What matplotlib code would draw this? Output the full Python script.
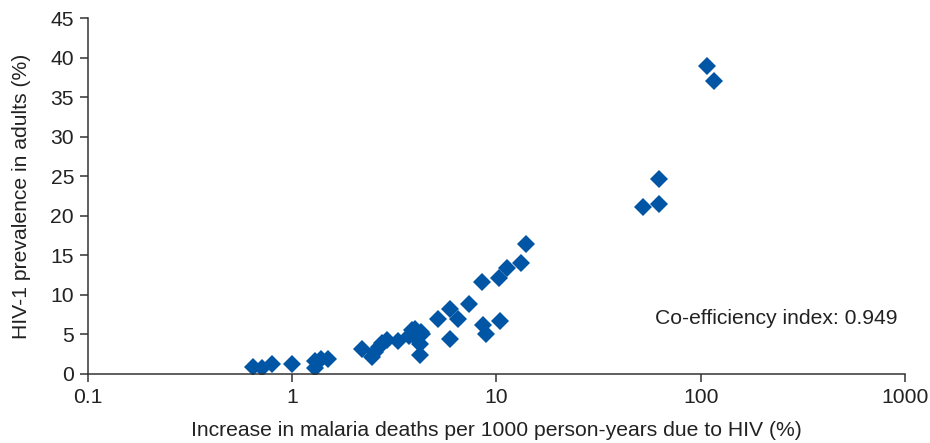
import numpy as np
import matplotlib.pyplot as plt
from matplotlib.ticker import FixedLocator, FixedFormatter, NullLocator

plt.rcParams['font.family'] = ['Liberation Sans', 'DejaVu Sans']

# increase in malaria deaths per 1000 person-years due to HIV (%)
malaria_increase = [0.64, 0.715, 0.80, 1.0, 1.29, 1.29, 1.39, 1.49,
                    2.19, 2.47, 2.55, 2.66, 2.76, 2.92, 3.28,
                    3.73, 3.87, 3.98, 4.05, 4.25, 4.22, 4.2, 4.3,
                    5.2, 5.9, 5.92, 6.48, 7.34, 8.5, 8.55, 8.86,
                    10.3, 10.4, 11.3, 13.2, 14.0,
                    52.1, 62.2, 62.2, 107, 115.8]
# HIV-1 prevalence in adults (%)
hiv_prev = [0.85, 0.72, 1.2, 1.26, 1.7, 0.76, 1.85, 1.9,
            3.2, 2.2, 2.74, 3.45, 3.9, 4.3, 4.2,
            4.8, 5.5, 5.7, 4.6, 5.35, 3.8, 2.4, 5.1,
            7.0, 4.4, 8.2, 6.95, 8.85, 11.6, 6.2, 5.0,
            12.2, 6.7, 13.4, 14.0, 16.4,
            21.1, 21.5, 24.6, 38.9, 37.1]
coef = 0.949

fig = plt.figure(figsize=(9.3, 4.43), dpi=100)
ax = fig.add_axes([0.0946, 0.1558, 0.8785, 0.8032])

ax.plot(malaria_increase, hiv_prev, linestyle='None', marker='D',
        markersize=8.8, color='#0055a4', markeredgewidth=0)

ax.set_xscale('log')
ax.set_xlim(0.1, 1000)
ax.set_ylim(0, 45)
ax.xaxis.set_major_locator(FixedLocator([0.1, 1, 10, 100, 1000]))
ax.xaxis.set_major_formatter(FixedFormatter(['0.1', '1', '10', '100', '1000']))
ax.xaxis.set_minor_locator(NullLocator())
ax.set_yticks(np.arange(0, 46, 5))

for s in ['top', 'right']:
    ax.spines[s].set_visible(False)
for s in ['left', 'bottom']:
    ax.spines[s].set_color('#333333')
    ax.spines[s].set_linewidth(1.1)
ax.tick_params(axis='both', direction='out', length=6, width=1.1,
               color='#333333', labelsize=15.2, labelcolor='#222222', pad=4)

ax.set_xlabel('Increase in malaria deaths per 1000 person-years due to HIV (%)',
              fontsize=15.2, color='#222222', labelpad=10)
ax.set_ylabel('HIV-1 prevalence in adults (%)', fontsize=15.2,
              color='#222222', labelpad=14)

ax.text(0.694, 0.155, 'Co-efficiency index: {}'.format(coef),
        transform=ax.transAxes, fontsize=15.2, color='#222222',
        ha='left', va='center')

fig.savefig('out.png', dpi=100)
